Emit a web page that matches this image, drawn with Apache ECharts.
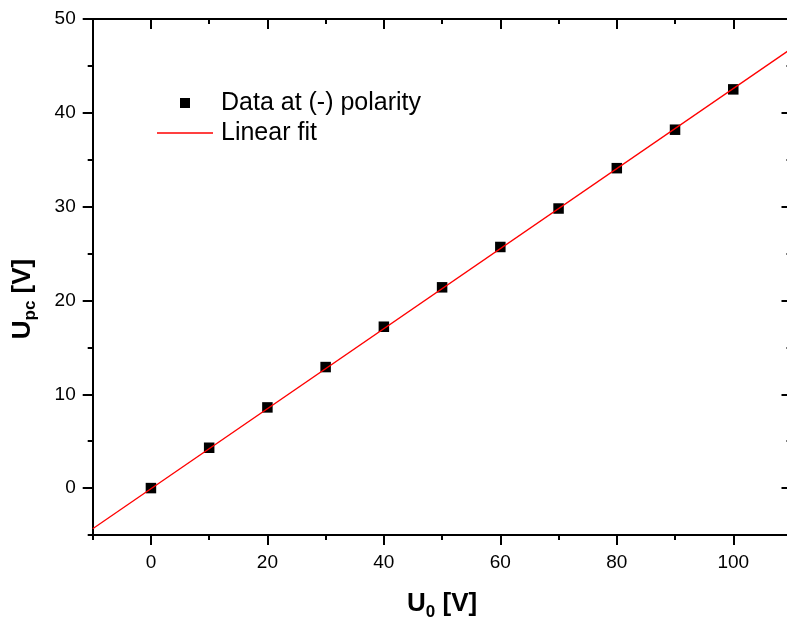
<!DOCTYPE html>
<html>
<head>
<meta charset="utf-8">
<script src="https://cdn.jsdelivr.net/npm/echarts@6/dist/echarts.min.js"></script>
<style>
  html, body { margin: 0; padding: 0; background: #fff; }
  #chart { width: 787px; height: 623px; }
</style>
</head>
<body>
<div id="chart"></div>
<script>
// Applied voltage U0 [V]
const u0 = [0, 10, 20, 30, 40, 50, 60, 70, 80, 90, 100];
// Measured Upc [V] at (-) polarity
const upc = [0.0, 4.3, 8.6, 12.9, 17.2, 21.4, 25.7, 29.8, 34.1, 38.2, 42.5];
// Linear fit, evaluated at the ends of the U0 range
const fitU0 = [-10, 110];
const fitUpc = [-4.33, 46.85];
// Labelled (major) tick values
const xMajor = [0, 20, 40, 60, 80, 100];
const yMajor = [0, 10, 20, 30, 40, 50];

const seriesNames = ['Data at (-) polarity', 'Linear fit'];

const FONT = '"Liberation Sans", Arial, sans-serif';
const TITLE_FONT = '"Liberation Sans Narrow", "Arial Narrow", "Liberation Sans", Arial, sans-serif';
const BLACK = '#000';

const xRange = { min: -10, max: 110 };
const yRange = { min: -5, max: 50 };

function baseAxis(range, position, extra) {
  return Object.assign({
    type: 'value',
    position: position,
    min: range.min,
    max: range.max,
    splitLine: { show: false },
    axisLine: { show: false, onZero: false, lineStyle: { color: BLACK, width: 2 } },
    axisLabel: { show: false },
    axisTick: { show: false }
  }, extra);
}

// Minor ticks every step (with the axis line), major ticks on their own overlay axis
function axisPair(range, position, step, major, inside, labelled, nameOpts) {
  const minorAxis = baseAxis(range, position, {
    interval: step,
    axisLine: { show: true, onZero: false, lineStyle: { color: BLACK, width: 2 } },
    axisTick: { show: true, inside: inside, length: 5, lineStyle: { color: BLACK, width: 2 } },
    axisLabel: labelled ? {
      show: true,
      customValues: major,
      color: BLACK,
      fontSize: 19,
      fontFamily: FONT,
      margin: labelled.margin
    } : { show: false }
  });
  if (nameOpts) Object.assign(minorAxis, nameOpts);
  const majorAxis = baseAxis(range, position, {
    axisTick: { show: true, inside: inside, length: 10, customValues: major, lineStyle: { color: BLACK, width: 2 } }
  });
  return [minorAxis, majorAxis];
}

const titleRich = {
  u: { fontSize: 26, fontWeight: 'bold', fontFamily: TITLE_FONT, color: BLACK, lineHeight: 30 },
  s: { fontSize: 17, fontWeight: 'bold', fontFamily: TITLE_FONT, color: BLACK, lineHeight: 30, padding: [16, 0, 0, 0] }
};

const xAxes = [
  ...axisPair(xRange, 'bottom', 10, xMajor, false, { margin: 18 }, {
    name: '{u|U}{s|0}{u| [V]}',
    nameLocation: 'middle',
    nameGap: 54,
    nameTextStyle: { rich: titleRich }
  }),
  ...axisPair(xRange, 'top', 10, xMajor, true, null, null)
];

const yAxes = [
  ...axisPair(yRange, 'left', 5, yMajor, false, { margin: 17 }, {
    name: '{u|U}{s|pc}{u| [V]}',
    nameLocation: 'middle',
    nameGap: 55,
    nameRotate: 90,
    nameTextStyle: { rich: titleRich, padding: [0, 44, 0, 0] }
  }),
  ...axisPair(yRange, 'right', 5, yMajor, true, null, null)
];

const chart = echarts.init(document.getElementById('chart'), null, { renderer: 'canvas' });

chart.setOption({
  animation: false,
  backgroundColor: '#fff',
  grid: { left: 92.7, top: 19, right: -4.5, bottom: 88, outerBoundsMode: 'none', containLabel: false },
  legend: {
    orient: 'vertical',
    left: 157,
    top: 90.5,
    padding: 0,
    itemWidth: 56,
    itemHeight: 10,
    itemGap: 5,
    symbolKeepAspect: true,
    selectedMode: false,
    textStyle: { fontSize: 25, fontFamily: FONT, color: BLACK, lineHeight: 25, padding: [0, 0, 0, 3] },
    data: [
      { name: seriesNames[0], icon: 'path://M0,0H10V10H0Z' },
      { name: seriesNames[1], icon: 'path://M0,0H56V1.3H0Z' }
    ]
  },
  xAxis: xAxes,
  yAxis: yAxes,
  series: [
    {
      name: seriesNames[1],
      type: 'line',
      xAxisIndex: 0,
      yAxisIndex: 0,
      data: fitU0.map((x, i) => [x, fitUpc[i]]),
      symbol: 'none',
      lineStyle: { color: '#ff0000', width: 1.3 },
      itemStyle: { color: '#ff0000' },
      z: 3
    },
    {
      name: seriesNames[0],
      type: 'scatter',
      xAxisIndex: 0,
      yAxisIndex: 0,
      data: u0.map((x, i) => [x, upc[i]]),
      symbol: 'rect',
      symbolSize: 10.5,
      itemStyle: { color: BLACK, opacity: 1 },
      z: 2
    }
  ]
});
</script>
</body>
</html>
